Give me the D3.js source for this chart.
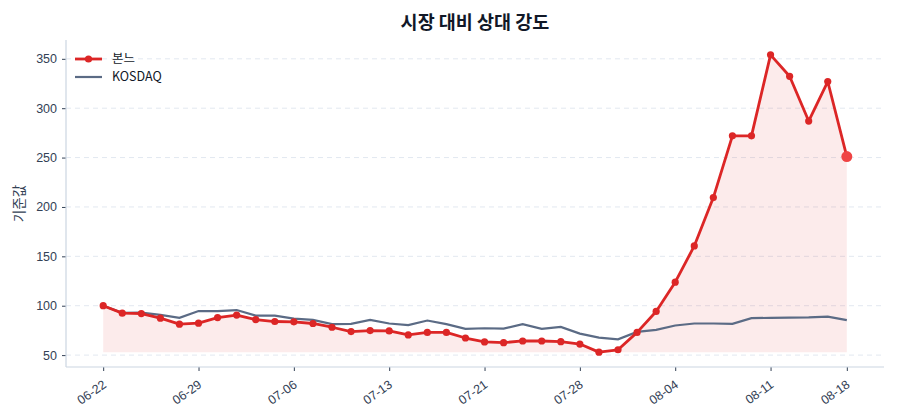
<!DOCTYPE html>
<html>
  <head>
    <meta charset="utf-8" />
    <title>시장 대비 상대 강도</title>
    <style>
      body {
        margin: 0;
        background: #fff;
        font-family: "Noto Sans CJK KR", "Noto Sans", sans-serif;
      }
      .grid line {
        stroke: #e2e8f0;
        stroke-dasharray: 5 4;
      }
      .axis text {
        fill: #334155;
        font-size: 12.5px;
      }
      .axis line {
        stroke: #334155;
      }
    </style>
    <script src="https://d3js.org/d3.v7.min.js"></script>
  </head>
  <body>
    <div id="chart"></div>
    <script>
      // trading days, one label per point
      const dates = [
        "06-22", "06-23", "06-26", "06-27", "06-28", "06-29", "06-30", "07-03",
        "07-04", "07-05", "07-06", "07-07", "07-10", "07-11", "07-12", "07-13",
        "07-14", "07-17", "07-18", "07-19", "07-21", "07-24", "07-25", "07-26",
        "07-27", "07-28", "07-31", "08-01", "08-02", "08-03", "08-04", "08-07",
        "08-08", "08-09", "08-10", "08-11", "08-14", "08-16", "08-17", "08-18"
      ];
      const bonne = [
        100, 92.5, 92, 87.4, 81.3, 82.3, 88, 90.5, 86, 84,
        83.7, 82, 78.2, 73.8, 74.8, 74.5, 70.4, 73, 73, 67.3,
        63.3, 62.6, 64.3, 64.3, 63.6, 61.2, 53, 55.4, 73, 94.2,
        123.8, 160.5, 209.5, 272, 272, 354, 332.3, 287, 327, 251
      ];
      const kosdaq = [
        100, 92.8, 93, 90.8, 87.8, 94.6, 94.6, 95.6, 90, 90,
        87, 85.7, 81.3, 81.6, 85.7, 82, 80.3, 85, 81.3, 76.5,
        77.2, 76.9, 81.3, 76.5, 78.6, 71.8, 67.7, 66, 73.5, 75.5,
        80, 82, 82, 81.7, 87.4, 87.7, 88, 88.1, 89, 85.4
      ];
      const tickIndex = [0, 5, 10, 15, 20, 25, 30, 35, 39];
      const yTicks = [50, 100, 150, 200, 250, 300, 350];
      const seriesNames = ["본느", "KOSDAQ"];

      const W = 900, H = 420;
      const margin = { top: 40, right: 16, bottom: 53, left: 66 };
      const width = W - margin.left - margin.right;
      const height = H - margin.top - margin.bottom;

      const svg = d3
        .select("#chart")
        .append("svg")
        .attr("width", W)
        .attr("height", H);

      const g = svg
        .append("g")
        .attr("transform", `translate(${margin.left},${margin.top})`);

      const n = dates.length;
      const pad = (n - 1) * 0.05;
      const x = d3.scaleLinear().domain([-pad, n - 1 + pad]).range([0, width]);

      const all = bonne.concat(kosdaq);
      const lo = d3.min(all), hi = d3.max(all);
      const yPad = (hi - lo) * 0.05;
      const y = d3.scaleLinear().domain([lo - yPad, hi + yPad]).range([height, 0]);

      // horizontal grid
      g.append("g")
        .attr("class", "grid")
        .selectAll("line")
        .data(yTicks)
        .join("line")
        .attr("x1", 0)
        .attr("x2", width)
        .attr("y1", (d) => y(d))
        .attr("y2", (d) => y(d));

      // fill under the stock line, down to its minimum
      const base = d3.min(bonne);
      const area = d3
        .area()
        .x((d, i) => x(i))
        .y0(y(base))
        .y1((d) => y(d));
      g.append("path")
        .datum(bonne)
        .attr("d", area)
        .attr("fill", "#dc2626")
        .attr("fill-opacity", 0.09);

      const line = d3
        .line()
        .x((d, i) => x(i))
        .y((d) => y(d));

      g.append("path")
        .datum(kosdaq)
        .attr("d", line)
        .attr("fill", "none")
        .attr("stroke", "#5b6b85")
        .attr("stroke-width", 2.2);

      g.append("path")
        .datum(bonne)
        .attr("d", line)
        .attr("fill", "none")
        .attr("stroke", "#dc2626")
        .attr("stroke-width", 2.8)
        .attr("stroke-linejoin", "round");

      g.append("g")
        .selectAll("circle")
        .data(bonne)
        .join("circle")
        .attr("cx", (d, i) => x(i))
        .attr("cy", (d) => y(d))
        .attr("r", 3.6)
        .attr("fill", "#dc2626");

      // last point highlighted
      g.append("circle")
        .attr("cx", x(n - 1))
        .attr("cy", y(bonne[n - 1]))
        .attr("r", 5.5)
        .attr("fill", "#ef4444");

      // axes
      const yAxis = g
        .append("g")
        .attr("class", "axis")
        .call(d3.axisLeft(y).tickValues(yTicks).tickSize(4).tickPadding(5));
      yAxis.select(".domain").remove();

      const xAxis = g
        .append("g")
        .attr("class", "axis")
        .attr("transform", `translate(0,${height})`)
        .call(
          d3
            .axisBottom(x)
            .tickValues(tickIndex)
            .tickFormat((i) => dates[i])
            .tickSize(4)
        );
      xAxis.select(".domain").remove();
      xAxis
        .selectAll("text")
        .attr("text-anchor", "end")
        .attr("y", 0)
        .attr("dy", "0.35em")
        .attr("transform", "translate(1,16) rotate(-35)");

      // spines
      g.append("line")
        .attr("x1", 0).attr("x2", 0)
        .attr("y1", 0).attr("y2", height)
        .attr("stroke", "#cbd5e1")
        .attr("stroke-width", 1.2);
      g.append("line")
        .attr("x1", 0).attr("x2", width)
        .attr("y1", height).attr("y2", height)
        .attr("stroke", "#cbd5e1")
        .attr("stroke-width", 1.2);

      // title and y label
      svg.append("text")
        .attr("x", margin.left + width / 2)
        .attr("y", 29)
        .attr("text-anchor", "middle")
        .attr("font-size", 18.5)
        .attr("font-weight", "bold")
        .attr("fill", "#111827")
        .text("시장 대비 상대 강도");

      svg.append("text")
        .attr("transform", `translate(24,${margin.top + height / 2}) rotate(-90)`)
        .attr("text-anchor", "middle")
        .attr("font-size", 13.5)
        .attr("fill", "#334155")
        .text("기준값");

      // legend
      const legend = g.append("g").attr("transform", "translate(9,19)");
      const colors = ["#dc2626", "#5b6b85"];
      seriesNames.forEach((name, k) => {
        const row = legend.append("g").attr("transform", `translate(0,${k * 18})`);
        row.append("line")
          .attr("x1", 0).attr("x2", 27)
          .attr("stroke", colors[k])
          .attr("stroke-width", k === 0 ? 2.8 : 2.2);
        if (k === 0) {
          row.append("circle").attr("cx", 13.5).attr("r", 3.6).attr("fill", colors[k]);
        }
        row.append("text")
          .attr("x", 37)
          .attr("dy", "0.35em")
          .attr("font-size", 12.5)
          .attr("fill", "#111827")
          .text(name);
      });
    </script>
  </body>
</html>
